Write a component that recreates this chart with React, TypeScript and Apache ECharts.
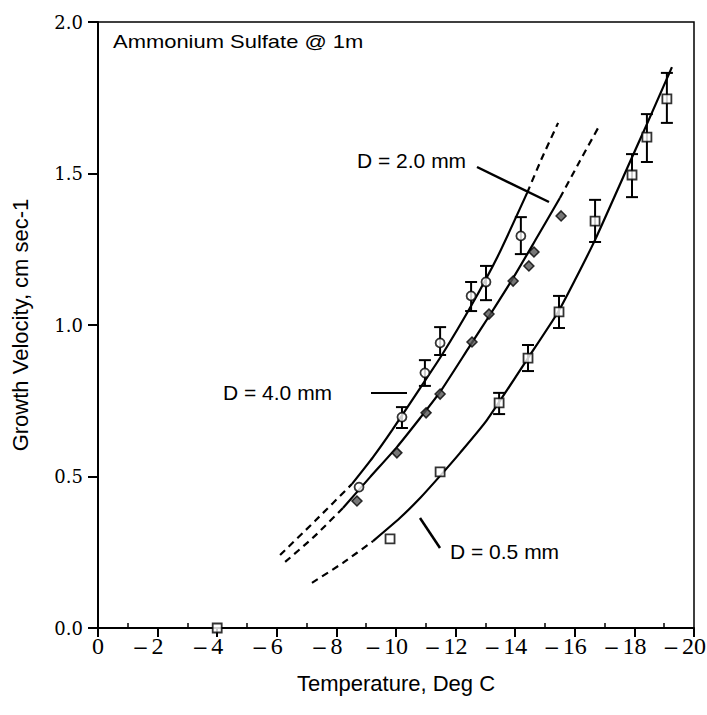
import React, { useEffect, useRef } from "react";
import * as echarts from "echarts";

// Open circles (D = 4.0 mm)
const circleX = [-8.76, -10.2, -10.97, -11.48, -12.52, -13.02, -14.19];
const circleY = [0.465, 0.696, 0.842, 0.941, 1.096, 1.142, 1.294];
const circleLo = [null, 0.660, 0.799, 0.901, 1.046, 1.082, 1.234];
const circleHi = [null, 0.729, 0.884, 0.993, 1.142, 1.195, 1.356];

// Filled diamonds (D = 2.0 mm)
const diamondX = [-8.69, -10.03, -11.01, -11.48, -12.55, -13.12, -13.93, -14.46, -14.63, -15.54];
const diamondY = [0.419, 0.578, 0.71, 0.772, 0.944, 1.036, 1.145, 1.195, 1.241, 1.36];

// Open squares (D = 0.5 mm)
const squareX = [-4.0, -9.8, -11.48, -13.46, -14.43, -15.47, -16.68, -17.92, -18.42, -19.09];
const squareY = [0.0, 0.294, 0.515, 0.743, 0.891, 1.043, 1.343, 1.495, 1.62, 1.746];
const squareLo = [null, null, null, 0.706, 0.848, 0.99, 1.274, 1.422, 1.538, 1.667];
const squareHi = [null, null, null, 0.776, 0.934, 1.096, 1.413, 1.564, 1.696, 1.832];

// Fitted curves: [temperature, velocity]
const curve4Dash1 = [[-6.11, 0.241], [-7.28, 0.353], [-8.52, 0.475]];
const curve4Solid = [[-8.52, 0.475], [-9.23, 0.564], [-9.87, 0.653], [-10.81, 0.792], [-11.54, 0.901], [-12.48, 1.056], [-13.42, 1.228], [-14.4, 1.436]];
const curve4Dash2 = [[-14.4, 1.436], [-14.87, 1.545], [-15.44, 1.667]];

const curve2Dash1 = [[-6.28, 0.218], [-7.28, 0.304], [-8.22, 0.396]];
const curve2Solid = [[-8.22, 0.396], [-9.13, 0.498], [-10.03, 0.597], [-10.81, 0.693], [-11.48, 0.779], [-12.48, 0.931], [-13.15, 1.033], [-13.93, 1.155], [-14.66, 1.277], [-15.5, 1.419]];
const curve2Dash2 = [[-15.5, 1.419], [-16.17, 1.541], [-16.78, 1.65]];

const curve05Dash = [[-7.18, 0.149], [-8.22, 0.215], [-9.23, 0.287]];
const curve05Solid = [[-9.23, 0.287], [-10.13, 0.363], [-10.81, 0.429], [-11.48, 0.502], [-12.15, 0.578], [-13.05, 0.686], [-14.43, 0.891], [-15.44, 1.043], [-16.01, 1.149], [-16.68, 1.281], [-17.85, 1.538], [-18.42, 1.663], [-19.26, 1.851]];

const minorTicks = [-1, -3, -5, -7, -9, -11, -13, -15, -17, -19];

const SANS = "'Liberation Sans', Arial, sans-serif";
const SERIF = "'Liberation Serif', 'Times New Roman', serif";
const WSERIF = "'DejaVu Serif', serif";

function errData(xs: number[], lo: (number | null)[], hi: (number | null)[]) {
  const out: number[][] = [];
  xs.forEach((x, i) => {
    if (lo[i] != null && hi[i] != null) out.push([x, lo[i] as number, hi[i] as number]);
  });
  return out;
}

function errorSeries(data: number[][]) {
  return {
    type: "custom",
    data,
    z: 2,
    encode: { x: 0, y: [1, 2] },
    renderItem: (params: any, api: any) => {
      const x = api.value(0);
      const pLo = api.coord([x, api.value(1)]);
      const pHi = api.coord([x, api.value(2)]);
      const w = 6;
      const st = { stroke: "#000", lineWidth: 2 };
      return {
        type: "group",
        children: [
          { type: "line", shape: { x1: pHi[0], y1: pHi[1], x2: pLo[0], y2: pLo[1] }, style: st },
          { type: "line", shape: { x1: pHi[0] - w, y1: pHi[1], x2: pHi[0] + w, y2: pHi[1] }, style: st },
          { type: "line", shape: { x1: pLo[0] - w, y1: pLo[1], x2: pLo[0] + w, y2: pLo[1] }, style: st },
        ],
      };
    },
  };
}

function curve(data: number[][], dashed: boolean) {
  return {
    type: "line",
    data,
    showSymbol: false,
    smooth: 0.2,
    z: 1,
    silent: true,
    lineStyle: { color: "#000", width: 2.2, type: dashed ? [7, 5] : "solid" },
  };
}

export default function App() {
  const ref = useRef<HTMLDivElement>(null);
  useEffect(() => {
    const chart = echarts.init(ref.current!, null, { renderer: "svg" });
    const zip = (xs: number[], ys: number[]) => xs.map((x, i) => [x, ys[i]]);
    chart.setOption({
      animation: false,
      backgroundColor: "#fff",
      grid: {
        left: 98,
        right: 13,
        top: 22,
        bottom: 87,
        show: true,
        borderColor: "#000",
        borderWidth: 1.5,
        containLabel: false,
        outerBoundsMode: "none",
      },
      xAxis: [
        {
          type: "value",
          min: -20,
          max: 0,
          interval: 2,
          inverse: true,
          name: "Temperature, Deg C",
          nameLocation: "middle",
          nameGap: 44,
          nameTextStyle: { fontFamily: SANS, fontSize: 22, color: "#000" },
          axisLine: { show: true, onZero: false, lineStyle: { color: "#000", width: 2 } },
          axisTick: { show: true, inside: false, length: 9, lineStyle: { color: "#000", width: 2 } },
          axisLabel: {
            fontFamily: SERIF,
            fontSize: 24,
            color: "#000",
            margin: 6,
            formatter: (v: number) => (v === 0 ? "{d|0}" : "{m|\u2013}{d|" + Math.abs(v) + "}{s|}"),
            rich: {
              d: { fontFamily: SERIF, fontSize: 24, color: "#000" },
              m: { fontFamily: SERIF, fontSize: 24, color: "#000", width: 17, align: "left", fontWeight: "bold" },
              s: { fontFamily: SERIF, fontSize: 24, width: 17 },
            },
          },
          splitLine: { show: false },
        },
        {
          type: "value",
          min: -20,
          max: 0,
          inverse: true,
          position: "bottom",
          axisLine: { show: false },
          axisTick: { show: true, inside: true, length: 5, customValues: minorTicks, lineStyle: { color: "#000", width: 1.5 } },
          axisLabel: { show: false },
          splitLine: { show: false },
        },
      ],
      yAxis: {
        type: "value",
        min: 0,
        max: 2,
        interval: 0.5,
        name: "Growth Velocity, cm sec-1",
        nameLocation: "middle",
        nameGap: 67,
        nameTextStyle: { fontFamily: SANS, fontSize: 22, color: "#000" },
        axisLine: { show: true, lineStyle: { color: "#000", width: 2 } },
        axisTick: { show: true, inside: false, length: 10, lineStyle: { color: "#000", width: 2 } },
        axisLabel: {
          fontFamily: WSERIF,
          fontSize: 18,
          color: "#000",
          margin: 15,
          formatter: (v: number) => v.toFixed(1),
        },
        splitLine: { show: false },
      },
      graphic: [
        { type: "text", x: 113, y: 33, scaleX: 1.22, style: { text: "Ammonium Sulfate @ 1m", fontFamily: SANS, fontSize: 18, fill: "#000" } },
        { type: "text", left: 357, top: 150, style: { text: "D = 2.0 mm", fontFamily: SANS, fontSize: 21, fill: "#000" } },
        { type: "line", shape: { x1: 477, y1: 167, x2: 549, y2: 202 }, style: { stroke: "#000", lineWidth: 2.5 } },
        { type: "text", left: 223, top: 382, style: { text: "D = 4.0 mm", fontFamily: SANS, fontSize: 21, fill: "#000" } },
        { type: "line", shape: { x1: 371, y1: 393, x2: 407, y2: 393 }, style: { stroke: "#000", lineWidth: 2 } },
        { type: "text", left: 450, top: 541, style: { text: "D = 0.5 mm", fontFamily: SANS, fontSize: 21, fill: "#000" } },
        { type: "line", shape: { x1: 420, y1: 518, x2: 440, y2: 548 }, style: { stroke: "#000", lineWidth: 2.5 } },
      ],
      series: [
        curve(curve4Dash1, true),
        curve(curve4Solid, false),
        curve(curve4Dash2, true),
        curve(curve2Dash1, true),
        curve(curve2Solid, false),
        curve(curve2Dash2, true),
        curve(curve05Dash, true),
        curve(curve05Solid, false),
        errorSeries(errData(circleX, circleLo, circleHi)),
        errorSeries(errData(squareX, squareLo, squareHi)),
        {
          type: "scatter",
          data: zip(circleX, circleY),
          symbol: "circle",
          symbolSize: 9,
          z: 3,
          itemStyle: { color: "#fff", borderColor: "#000", borderWidth: 1.8 },
        },
        {
          type: "scatter",
          data: zip(diamondX, diamondY),
          symbol: "diamond",
          symbolSize: 10,
          z: 3,
          itemStyle: { color: "#555", borderColor: "#000", borderWidth: 1.5 },
        },
        {
          type: "scatter",
          data: zip(squareX, squareY),
          symbol: "rect",
          symbolSize: 9,
          z: 3,
          itemStyle: { color: "#fff", borderColor: "#000", borderWidth: 1.8 },
        },
      ],
    });
    return () => chart.dispose();
  }, []);
  return <div ref={ref} style={{ width: 707, height: 715, position: "absolute", left: 0, top: 0, background: "#fff" }} />;
}
